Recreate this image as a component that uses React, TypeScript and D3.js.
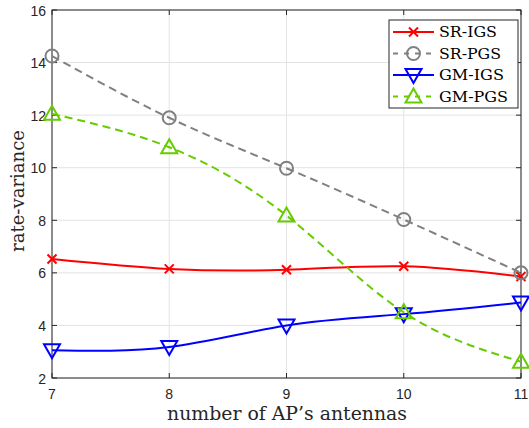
import * as React from "react"
import * as d3 from "d3"

const WIDTH = 529
const HEIGHT = 428

const antennas = [7, 8, 9, 10, 11]
const srIgs = [6.53, 6.15, 6.12, 6.25, 5.86]
const srPgs = [14.25, 11.9, 9.98, 8.03, 6.0]
const gmIgs = [3.06, 3.18, 4.0, 4.43, 4.87]
const gmPgs = [12.05, 10.78, 8.18, 4.5, 2.62]
const xTicks = [7, 8, 9, 10, 11]
const yTicks = [2, 4, 6, 8, 10, 12, 14, 16]

const series = [
  { name: "SR-IGS", values: srIgs, color: "#ff0000", dash: null, marker: "x", w: 58 },
  { name: "SR-PGS", values: srPgs, color: "#808080", dash: "8,5", marker: "o", w: 62 },
  { name: "GM-IGS", values: gmIgs, color: "#0000ff", dash: null, marker: "v", w: 65 },
  { name: "GM-PGS", values: gmPgs, color: "#66cc00", dash: "8,5", marker: "^", w: 69 },
]

const margin = { top: 10, right: 8, bottom: 50, left: 52 }

function marker(type, x, y, color, key) {
  if (type === "x") {
    const s = 4.5
    return (
      <path key={key} d={`M${x - s},${y - s}L${x + s},${y + s}M${x - s},${y + s}L${x + s},${y - s}`}
        stroke={color} strokeWidth={2} fill="none" />
    )
  }
  if (type === "o") {
    return <circle key={key} cx={x} cy={y} r={6.5} stroke={color} strokeWidth={2} fill="none" />
  }
  if (type === "v") {
    return (
      <path key={key} d={`M${x - 8},${y - 6}L${x + 8},${y - 6}L${x},${y + 8}Z`}
        stroke={color} strokeWidth={2} fill="none" />
    )
  }
  return (
    <path key={key} d={`M${x - 8},${y + 6}L${x + 8},${y + 6}L${x},${y - 8}Z`}
      stroke={color} strokeWidth={2} fill="none" />
  )
}

export default function App() {
  const x0 = margin.left
  const x1 = WIDTH - margin.right
  const y0 = HEIGHT - margin.bottom
  const y1 = margin.top

  const x = d3.scaleLinear().domain([7, 11]).range([x0, x1])
  const y = d3.scaleLinear().domain([2, 16]).range([y0, y1])

  const line = d3
    .line()
    .x((d, i) => x(antennas[i]))
    .y(d => y(d))
    .curve(d3.curveNatural)

  const tickFont = "'Liberation Sans', Arial, sans-serif"
  const serif = "'DejaVu Serif', 'Liberation Serif', serif"

  return (
    <svg width={WIDTH} height={HEIGHT} style={{ position: "absolute", left: 0, top: 0 }}>
      <rect x={0} y={0} width={WIDTH} height={HEIGHT} fill="#fff" />
      {/* grid */}
      {xTicks.map(t => (
        <line key={"gx" + t} x1={x(t)} x2={x(t)} y1={y0} y2={y1} stroke="#e3e3e3" strokeWidth={1} />
      ))}
      {yTicks.map(t => (
        <line key={"gy" + t} x1={x0} x2={x1} y1={y(t)} y2={y(t)} stroke="#e3e3e3" strokeWidth={1} />
      ))}
      {/* ticks */}
      {xTicks.map(t => (
        <g key={"tx" + t}>
          <line x1={x(t)} x2={x(t)} y1={y0} y2={y0 - 5} stroke="#262626" />
          <line x1={x(t)} x2={x(t)} y1={y1} y2={y1 + 5} stroke="#262626" />
          <text x={x(t)} y={y0 + 21} textAnchor="middle" fontFamily={tickFont} fontSize={14} fill="#262626">{t}</text>
        </g>
      ))}
      {yTicks.map(t => (
        <g key={"ty" + t}>
          <line x1={x0} x2={x0 + 5} y1={y(t)} y2={y(t)} stroke="#262626" />
          <line x1={x1} x2={x1 - 5} y1={y(t)} y2={y(t)} stroke="#262626" />
          <text x={x0 - 6} y={y(t) + 5.5} textAnchor="end" fontFamily={tickFont} fontSize={14} fill="#262626">{t}</text>
        </g>
      ))}
      <rect x={x0} y={y1} width={x1 - x0} height={y0 - y1} fill="none" stroke="#262626" strokeWidth={1} />

      {/* series */}
      {series.map(s => (
        <g key={s.name}>
          <path d={line(s.values)} fill="none" stroke={s.color} strokeWidth={2} strokeDasharray={s.dash || undefined} />
          {s.values.map((v, i) => marker(s.marker, x(antennas[i]), y(v), s.color, i))}
        </g>
      ))}

      {/* axis labels */}
      <text x={167} y={420} textLength={240} lengthAdjust="spacingAndGlyphs" fontFamily={serif} fontSize={18} fill="#262626">
        number of AP’s antennas
      </text>
      <text transform={`translate(24,252) rotate(-90)`} textLength={122} lengthAdjust="spacingAndGlyphs" fontFamily={serif} fontSize={18} fill="#262626">
        rate-variance
      </text>

      {/* legend */}
      <g>
        <rect x={389} y={20} width={129} height={88} fill="#fff" stroke="#262626" strokeWidth={1} />
        {series.map((s, i) => {
          const ly = 32 + i * 21.5
          return (
            <g key={"lg" + s.name}>
              <line x1={393} x2={434} y1={ly} y2={ly} stroke={s.color} strokeWidth={2} strokeDasharray={s.dash ? "5,6" : undefined} />
              {marker(s.marker, 413.5, ly, s.color, "m")}
              <text x={439} y={ly + 5} textLength={s.w} lengthAdjust="spacingAndGlyphs" fontFamily={serif} fontSize={15} fill="#000">{s.name}</text>
            </g>
          )
        })}
      </g>
    </svg>
  )
}
